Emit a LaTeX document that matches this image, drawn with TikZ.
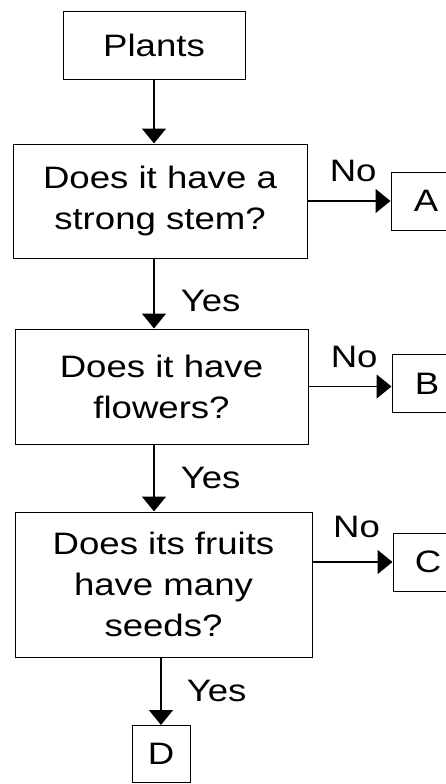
\documentclass[tikz,border=0pt]{standalone}
\usepackage{fontspec}
\setmainfont[FakeStretch=1.18]{Liberation Sans}
\usetikzlibrary{arrows.meta}

\begin{document}
\begin{tikzpicture}[
  x=1pt, y=-1pt,
  qbox/.style={
    draw, line width=1pt, align=center,
    inner sep=0pt, font=\fontsize{31}{41}\selectfont
  },
  leaf/.style={
    qbox, minimum width=70, minimum height=58
  },
  lbl/.style={
    inner sep=0pt, font=\fontsize{31}{41}\selectfont
  },
  flow/.style={
    -{Triangle[length=15pt,width=24pt]}, line width=1.6pt
  }
]
  \useasboundingbox (0,0) rectangle (445,784);
  \node[qbox, minimum width=182, minimum height=67] (plants) at (154,45.5) {Plants};
  \node[qbox, minimum width=294, minimum height=114] (stem) at (160,201)
    {Does it have a\\strong stem?};
  \node[qbox, minimum width=293, minimum height=115] (flowers) at (161.5,386.5)
    {Does it have\\flowers?};
  \node[qbox, minimum width=297, minimum height=145] (seeds) at (163.5,584.5)
    {Does its fruits\\have many\\seeds?};
  \node[leaf] (A) at (426,201){A};
  \node[leaf] (B) at (427,383.5){B};
  \node[leaf] (C) at (428,562){C};
  \node[qbox, minimum width=58, minimum height=57] (D) at (161,754){D};
  % down the yes branch
  \draw[flow] (plants.south) -- (plants.south |- stem.north);
  \draw[flow] (stem.south -| plants.south) -- (flowers.north -| plants.south)
    node[lbl, pos=0.6, anchor=west, xshift=26pt]{Yes};
  \draw[flow] (flowers.south -| plants.south) -- (seeds.north -| plants.south)
    node[lbl, pos=0.5, anchor=west, xshift=26pt]{Yes};
  \draw[flow] (seeds.south -| D.north) -- (D.north)
    node[lbl, pos=0.5, anchor=west, xshift=25pt]{Yes};
  % no branches
  \draw[flow] (stem.east) -- (A.west)
    node[lbl, pos=0.55, above=18pt]{No};
  \draw[flow] (flowers.east) -- (flowers.east -| B.west)
    node[lbl, pos=0.55, above=18pt]{No};
  \draw[flow] (C.west -| seeds.east) -- (C.west)
    node[lbl, pos=0.55, above=23pt]{No};
\end{tikzpicture}
\end{document}
